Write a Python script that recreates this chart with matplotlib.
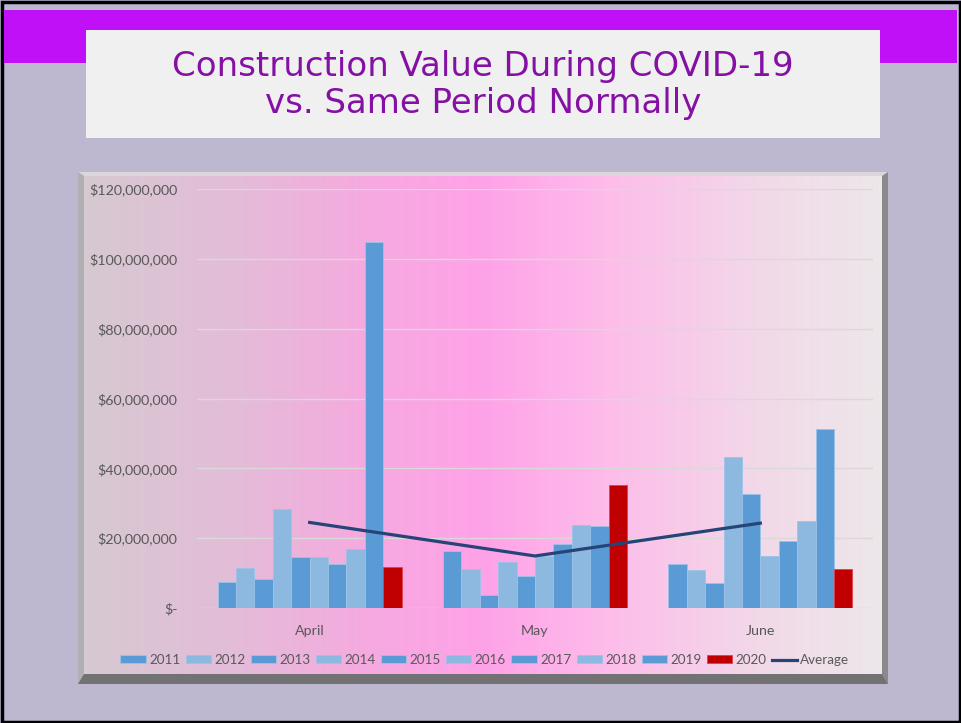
import matplotlib.pyplot as plt
import numpy as np
from matplotlib.patches import Rectangle, Polygon
from matplotlib.colors import LinearSegmentedColormap
from matplotlib.ticker import FuncFormatter

# Data (values in dollars)
months = ['April', 'May', 'June']
years = ['2011', '2012', '2013', '2014', '2015', '2016', '2017', '2018', '2019', '2020']
april = [7.5e6, 11.4e6, 8.4e6, 28.3e6, 14.7e6, 14.5e6, 12.6e6, 16.9e6, 104.9e6, 11.7e6]
may = [16.3e6, 11.1e6, 3.8e6, 13.2e6, 9.2e6, 15.0e6, 18.4e6, 23.8e6, 23.4e6, 35.1e6]
june = [12.7e6, 11.0e6, 7.1e6, 43.2e6, 32.6e6, 14.9e6, 19.2e6, 24.9e6, 51.4e6, 11.2e6]
average = [24.5e6, 14.9e6, 24.3e6]

dark_blue = '#5B9BD5'
light_blue = '#8DB9E1'
red = '#C00000'
bar_colors = [dark_blue, light_blue] * 4 + [dark_blue, red]

W, H = 961, 723
fig = plt.figure(figsize=(W / 100, H / 100), dpi=100)

# Background layer in pixel coordinates
bg = fig.add_axes([0, 0, 1, 1])
bg.set_xlim(0, W)
bg.set_ylim(H, 0)
bg.axis('off')
bg.add_patch(Rectangle((0, 0), W, H, facecolor='#BDB8D0', edgecolor='none'))
bg.add_patch(Rectangle((1.5, 1.5), W - 3, H - 3, facecolor='none', edgecolor='black', linewidth=2.5))
bg.add_patch(Rectangle((4, 10), W - 8, 53, facecolor='#C010F8', edgecolor='none'))
bg.add_patch(Rectangle((86, 30), 794, 108, facecolor='#F0F0F0', edgecolor='none'))
bg.text(483, 85, 'Construction Value During COVID-19\nvs. Same Period Normally',
        ha='center', va='center', fontsize=24.5, color='#8410A4',
        family='DejaVu Sans', linespacing=1.15)

# Chart panel with bevel
x0, y0, x1, y1 = 78, 172, 888, 684
b = 6
cmap = LinearSegmentedColormap.from_list('panel', [
    (0.0, '#D6C9D1'), (0.18, '#E3BDD8'), (0.36, '#F6A9E0'), (0.5, '#FFA2E8'),
    (0.66, '#FDBDEA'), (0.85, '#F2D9E8'), (1.0, '#EDE7EA')])
grad = np.linspace(0, 1, 256).reshape(1, -1)
bg.imshow(grad, cmap=cmap, aspect='auto', extent=(x0 + b, x1 - b, y1 - b - 4, y0 + b - 2), zorder=1)
bg.add_patch(Polygon([(x0, y0), (x1, y0), (x1 - b, y0 + b - 2), (x0 + b, y0 + b - 2)],
                     closed=True, facecolor='#DCD6DC', edgecolor='none', zorder=2))
bg.add_patch(Polygon([(x0, y0), (x0 + b, y0 + b - 2), (x0 + b, y1 - b - 4), (x0, y1)],
                     closed=True, facecolor='#B0B0B2', edgecolor='none', zorder=2))
bg.add_patch(Polygon([(x1, y0), (x1, y1), (x1 - b, y1 - b - 4), (x1 - b, y0 + b - 2)],
                     closed=True, facecolor='#8A8A8C', edgecolor='none', zorder=2))
bg.add_patch(Polygon([(x0, y1), (x0 + b, y1 - b - 4), (x1 - b, y1 - b - 4), (x1, y1)],
                     closed=True, facecolor='#727274', edgecolor='none', zorder=2))

# Main chart
ax = fig.add_axes([197 / W, 1 - 608 / H, 676 / W, 419 / H])
ax.set_facecolor('none')
x = np.arange(len(months))
width = 0.0817
handles = []
for i, yr in enumerate(years):
    vals = [april[i], may[i], june[i]]
    h = ax.bar(x + (i - 4.5) * width, vals, width, color=bar_colors[i],
               edgecolor='#9CC3E8' if i < 9 else '#E0404A', linewidth=0.6, label=yr, zorder=3)
    handles.append(h)
line, = ax.plot(x, average, color='#264478', linewidth=2.3, label='Average', zorder=4)
handles.append(line)

ax.set_xlim(-0.5, 2.5)
ax.set_ylim(0, 120e6)
ax.set_yticks(np.arange(0, 120e6 + 1, 20e6))
ax.yaxis.set_major_formatter(FuncFormatter(lambda v, p: '$-' if v == 0 else f'${v:,.0f}'))
ax.set_xticks(x)
ax.set_xticklabels(months)
ax.grid(axis='y', color='#D9D9D9', linewidth=1, zorder=0)
for s in ax.spines.values():
    s.set_visible(False)
ax.tick_params(axis='y', length=0, pad=14, labelsize=10.3, labelcolor='#595959')
ax.tick_params(axis='x', length=0, pad=12, labelsize=10.3, labelcolor='#595959')
for lbl in ax.get_xticklabels() + ax.get_yticklabels():
    lbl.set_family('Lato')

leg = fig.legend(handles=handles, labels=years + ['Average'], loc='center',
                 bbox_to_anchor=(485 / W, 1 - 660 / H), ncol=11, frameon=False,
                 handlelength=1.87, handleheight=0.58, handletextpad=0.25,
                 columnspacing=0.4, prop={'family': 'Lato', 'size': 9.7})
for t in leg.get_texts():
    t.set_color('#595959')

fig.savefig('out.png', dpi=100)
